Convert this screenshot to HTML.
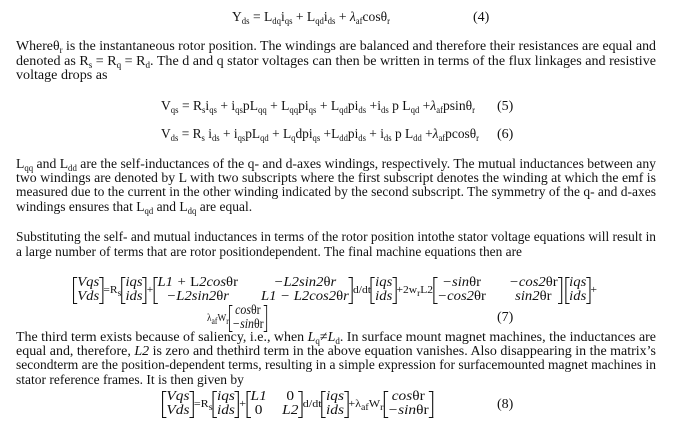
<!DOCTYPE html>
<html><head><meta charset="utf-8">
<style>
html,body{margin:0;padding:0;background:#fff;}
body{width:700px;height:433px;position:relative;overflow:hidden;font-family:"Liberation Serif",serif;color:#111;}
.l{position:absolute;left:16px;white-space:nowrap;font-size:14px;line-height:16px;transform-origin:0 50%;}
.e{position:absolute;white-space:nowrap;font-size:14px;line-height:16px;transform-origin:0 50%;}
sub{font-size:9px;vertical-align:-3px;line-height:0;}
.m{display:inline-grid;position:relative;vertical-align:middle;padding:0 4px;line-height:14px;font-style:italic;text-align:center;column-gap:22px;}
.m::before,.m::after{content:"";position:absolute;top:1px;bottom:0px;width:3px;border:1px solid #111;}
.m::before{left:0;border-right:none;}
.m::after{right:0;border-left:none;}
.c2{grid-template-columns:auto auto;}
.up{font-style:normal;}
.sm{font-size:11px;}
</style></head><body>

<div class="e" id="e4" style="left:232px;top:10px">Y<sub>ds</sub> = L<sub>dq</sub>i<sub>qs</sub> + L<sub>qd</sub>i<sub>ds</sub> + <i>λ</i><sub>af</sub>cosθ<sub>r</sub></div>
<div class="e" style="left:473px;top:10px">(4)</div>

<div class="l j" style="top:39px">Whereθ<sub>r</sub> is the instantaneous rotor position. The windings are balanced and therefore their resistances are equal and</div>
<div class="l j" style="top:54px">denoted as R<sub>s</sub> = R<sub>q</sub> = R<sub>d</sub>. The d and q stator voltages can then be written in terms of the flux linkages and resistive</div>
<div class="l n" style="top:68px">voltage drops as</div>

<div class="e" id="e5" style="left:161px;top:99px">V<sub>qs</sub> = R<sub>s</sub>i<sub>qs</sub> + i<sub>qs</sub>pL<sub>qq</sub> + L<sub>qq</sub>pi<sub>qs</sub> + L<sub>qd</sub>pi<sub>ds</sub> +i<sub>ds</sub> p L<sub>qd</sub> +<i>λ</i><sub>af</sub>psinθ<sub>r</sub></div>
<div class="e" style="left:497px;top:99px">(5)</div>
<div class="e" id="e6" style="left:161px;top:127px">V<sub>ds</sub> = R<sub>s</sub> i<sub>ds</sub> + i<sub>qs</sub>pL<sub>qd</sub> + L<sub>q</sub>dpi<sub>qs</sub> +L<sub>dd</sub>pi<sub>ds</sub> + i<sub>ds</sub> p L<sub>dd</sub> +<i>λ</i><sub>af</sub>pcosθ<sub>r</sub></div>
<div class="e" style="left:497px;top:127px">(6)</div>

<div class="l j" style="top:157px">L<sub>qq</sub> and L<sub>dd</sub> are the self-inductances of the q- and d-axes windings, respectively. The mutual inductances between any</div>
<div class="l j" style="top:171px">two windings are denoted by L with two subscripts where the first subscript denotes the winding at which the emf is</div>
<div class="l j" style="top:185px">measured due to the current in the other winding indicated by the second subscript. The symmetry of the q- and d-axes</div>
<div class="l n" style="top:200px">windings ensures that L<sub>qd</sub> and L<sub>dq</sub> are equal.</div>

<div class="l j" style="top:230px">Substituting the self- and mutual inductances in terms of the rotor position intothe stator voltage equations will result in</div>
<div class="l n" style="top:245px">a large number of terms that are rotor positiondependent. The final machine equations then are</div>

<div class="e" id="e7" style="left:73px;top:275px;line-height:30px"><span class="m"><div>Vqs</div><div>Vds</div></span><span class="sm">=R<sub>s</sub></span><span class="m"><div>iqs</div><div>ids</div></span><span class="sm">+</span><span class="m c2"><div>L1 + <span class="up">L</span>2cos<span class="up">θr</span></div><div>−L2sin2<span class="up">θ</span>r</div><div>−L2sin2<span class="up">θ</span>r</div><div>L1 − L2cos2<span class="up">θ</span>r</div></span><span class="sm">d/dt</span><span class="m"><div>iqs</div><div>ids</div></span><span class="sm">+2w<sub>r</sub>L2</span><span class="m c2"><div>−sin<span class="up">θr</span></div><div>−cos2<span class="up">θr</span></div><div>−cos2<span class="up">θr</span></div><div>sin2<span class="up">θr</span></div></span><span class="m" style="margin-left:3px"><div>iqs</div><div>ids</div></span><span class="sm">+</span></div>

<div class="e" id="e7b" style="left:207px;top:303px;line-height:30px"><span class="sm">λ<sub>af</sub>W<sub>r</sub></span><span class="m"><div>cos<span class="up">θr</span></div><div>−sin<span class="up">θr</span></div></span></div>
<div class="e" style="left:497px;top:310px">(7)</div>

<div class="l j" style="top:330px">The third term exists because of saliency, i.e., when <i>L</i><sub>q</sub>≠<i>L</i><sub>d</sub>. In surface mount magnet machines, the inductances are</div>
<div class="l j" style="top:344px">equal and, therefore, <i>L2</i> is zero and thethird term in the above equation vanishes. Also disappearing in the matrix’s</div>
<div class="l j" style="top:358px">secondterm are the position-dependent terms, resulting in a simple expression for surfacemounted magnet machines in</div>
<div class="l n" style="top:373px">stator reference frames. It is then given by</div>

<div class="e" id="e8" style="left:162px;top:389px;line-height:30px"><span class="m"><div>Vqs</div><div>Vds</div></span><span class="sm">=R<sub>s</sub></span><span class="m"><div>iqs</div><div>ids</div></span><span class="sm">+</span><span class="m c2" style="column-gap:14px"><div>L1</div><div class="up">0</div><div class="up">0</div><div>L2</div></span><span class="sm">d/dt</span><span class="m"><div>iqs</div><div>ids</div></span><span class="sm">+λ<sub>af</sub>W<sub>r</sub></span><span class="m"><div>cos<span class="up">θr</span></div><div>−sin<span class="up">θr</span></div></span></div>
<div class="e" style="left:497px;top:397px">(8)</div>

<script>
(function(){
  var last=0.88;
  var ls=document.querySelectorAll('.l');
  for(var i=0;i<ls.length;i++){
    var el=ls[i];
    var w=el.getBoundingClientRect().width;
    if(el.classList.contains('j')){
      last=640/w;
      el.style.transform='scaleX('+last+')';
    } else {
      el.style.transform='scaleX('+last+')';
    }
  }
  var eqs=[['e4',158],['e5',314],['e6',318],['e7',524],['e7b',60],['e8',271]];
  for(var k=0;k<eqs.length;k++){
    var e=document.getElementById(eqs[k][0]);
    var ww=e.getBoundingClientRect().width;
    e.style.transform='scaleX('+(eqs[k][1]/ww)+')';
  }
})();
</script>
</body></html>
